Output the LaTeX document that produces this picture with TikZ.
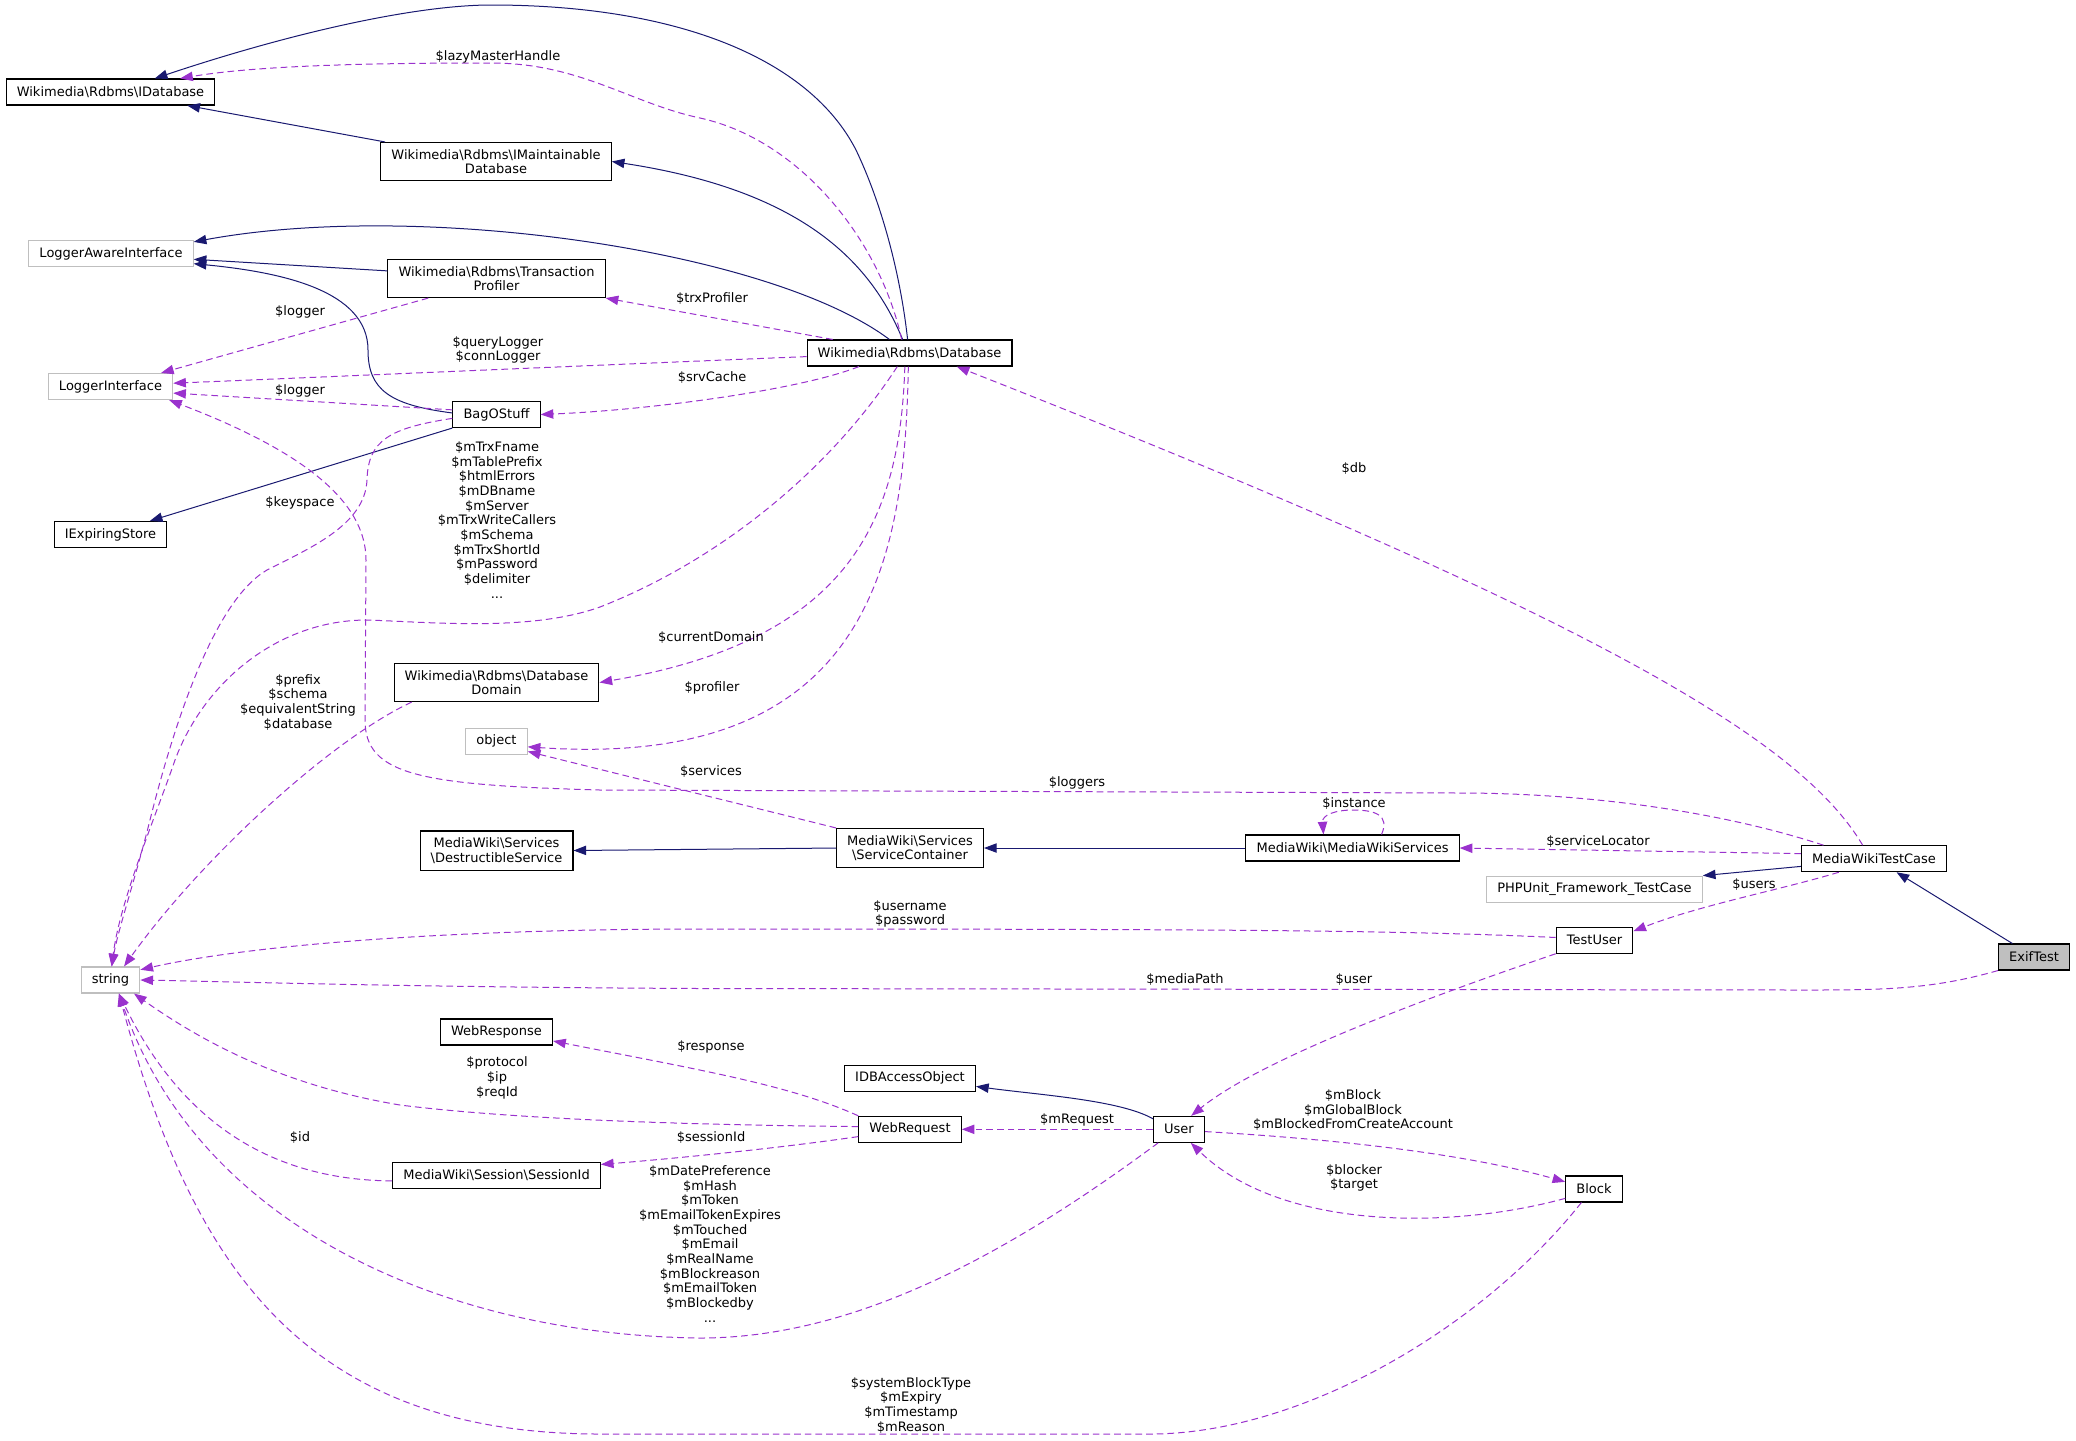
\documentclass[tikz,border=0pt]{standalone}
\usepackage{fontspec}
\setmainfont{DejaVu Sans}
\usetikzlibrary{arrows.meta}
\definecolor{inhblue}{HTML}{191970}
\definecolor{memviolet}{HTML}{9A32CD}
\definecolor{extgray}{HTML}{BFBFBF}
\newcommand{\bsl}{\textbackslash}

\begin{document}
\begin{tikzpicture}[x=0.75pt, y=-0.75pt,
    font=\fontsize{9.75}{11}\selectfont,
    cls/.style={draw=black, fill=white, line width=0.8pt, inner xsep=8pt, inner ysep=5pt, minimum height=19.5pt, align=center},
    extcls/.style={cls, draw=extgray},
    inh/.style={inhblue, line width=0.75pt, -{Triangle[length=9.5pt, width=7pt]}},
    mem/.style={memviolet, line width=0.75pt, dash pattern=on 5pt off 3pt, -{Triangle[length=9.5pt, width=7pt]}},
    lbl/.style={align=center, inner sep=0pt}]
    \useasboundingbox (0,0) rectangle (2076,1440);

    % Classes, left column
    \node[cls] (idb) at (110.5,92) {Wikimedia\bsl Rdbms\bsl IDatabase};
    \node[extcls] (lai) at (111,253.5) {LoggerAwareInterface};
    \node[extcls] (li) at (110.5,386.5) {LoggerInterface};
    \node[cls] (iexp) at (110.5,534.5) {IExpiringStore};
    \node[extcls] (str) at (110.5,980) {string};

    % Classes, second column
    \node[cls] (imaint) at (496,161.5) {Wikimedia\bsl Rdbms\bsl IMaintainable\\Database};
    \node[cls] (tprof) at (496.5,278.5) {Wikimedia\bsl Rdbms\bsl Transaction\\Profiler};
    \node[cls] (bag) at (496.5,414.5) {BagOStuff};
    \node[cls] (dom) at (496.5,682.5) {Wikimedia\bsl Rdbms\bsl Database\\Domain};
    \node[extcls] (obj) at (496.5,741.3) {object};
    \node[cls] (dest) at (496.5,850.5) {MediaWiki\bsl Services\\\bsl DestructibleService};
    \node[cls] (wresp) at (496.5,1032) {WebResponse};
    \node[cls] (sess) at (496.5,1175.4) {MediaWiki\bsl Session\bsl SessionId};

    % Classes, middle
    \node[cls] (db) at (909.5,353) {Wikimedia\bsl Rdbms\bsl Database};
    \node[cls] (cont) at (910,848) {MediaWiki\bsl Services\\\bsl ServiceContainer};
    \node[cls] (idbao) at (910,1078.3) {IDBAccessObject};
    \node[cls] (wreq) at (910,1129.3) {WebRequest};
    \node[cls] (user) at (1179,1129.3) {User};
    \node[cls] (mws) at (1352.5,848) {MediaWiki\bsl MediaWikiServices};

    % Classes, right side
    \node[extcls] (php) at (1594.5,889.3) {PHPUnit\_Framework\_TestCase};
    \node[cls] (tuser) at (1594.5,940.2) {TestUser};
    \node[cls] (block) at (1594,1189) {Block};
    \node[cls] (mwtc) at (1874,858.7) {MediaWikiTestCase};
    \node[cls, fill=extgray] (exif) at (2034,957) {ExifTest};

    % Inheritance
    \draw[inh] (db.98) .. controls (900,270) and (880,200) .. (856,150)
        .. controls (810,60) and (680,5) .. (491,5)
        .. controls (420,5) and (300,30) .. (idb.17);
    \draw[inh] (imaint.170) -- (idb.-10);
    \draw[inh] (db.117) .. controls (870,260) and (800,190) .. (imaint.east);
    \draw[inh] (db.146) .. controls (770,250) and (420,200) .. (lai.8);
    \draw[inh] (tprof.176) -- (lai.-4);
    \draw[inh] (bag.178) .. controls (390,405) and (368,390) .. (368,350)
        .. controls (368,290) and (280,272) .. (lai.-7);
    \draw[inh] (bag.south west) -- (iexp.19);
    \draw[inh] (cont.west) -- (dest.east);
    \draw[inh] (mws.west) -- (cont.east);
    \draw[inh] (mwtc.186) -- (php.north east);
    \draw[inh] (exif.148) -- (mwtc.-31);
    \draw[inh] (user.158) .. controls (1120,1100) and (1040,1095) .. (idbao.-7);

    % Members
    \draw[mem] (db.120) .. controls (880,240) and (800,140) .. (700,118)
        .. controls (630,103) and (580,63) .. (491,63)
        .. controls (380,63) and (260,65) .. (idb.11);
    \node[lbl] (lLazy) at (498,57) {\$lazyMasterHandle};

    \draw[mem] (db.170) -- (tprof.south east);
    \node[lbl] (lTrx) at (712,299) {\$trxProfiler};

    \draw[mem] (db.182) .. controls (600,365) and (300,378) .. (li.3);
    \node[lbl] (lQuery) at (498,350) {\$queryLogger\\\$connLogger};

    \draw[mem] (tprof.196) -- (li.15);
    \node[lbl] (lLogA) at (300,312) {\$logger};

    \draw[mem] (bag.174) -- (li.-6);
    \node[lbl] (lLogB) at (300,391) {\$logger};

    \draw[mem] (db.195) .. controls (800,390) and (650,410) .. (bag.east);
    \node[lbl] (lSrv) at (712,378) {\$srvCache};

    \draw[mem] (db.228) .. controls (830,470) and (720,560) .. (600,607)
        .. controls (530,632) and (430,622) .. (367,620)
        .. controls (280,620) and (205,680) .. (175,760)
        .. controls (158,810) and (120,900) .. (str.85);
    \node[lbl] (lTrxF) at (497,520) {\$mTrxFname\\\$mTablePrefix\\\$htmlErrors\\\$mDBname\\\$mServer\\\$mTrxWriteCallers\\\$mSchema\\\$mTrxShortId\\\$mPassword\\\$delimiter\\...};

    \draw[mem] (bag.185) .. controls (390,428) and (368,440) .. (367,480)
        .. controls (365,525) and (310,548) .. (267,570)
        .. controls (215,600) and (175,720) .. (150,820)
        .. controls (135,880) and (118,930) .. (str.85);
    \node[lbl] (lKey) at (300,503) {\$keyspace};

    \draw[mem] (dom.193) .. controls (330,740) and (200,860) .. (str.45);
    \node[lbl] (lPrefix) at (298,702) {\$prefix\\\$schema\\\$equivalentString\\\$database};

    \draw[mem] (db.251) .. controls (900,520) and (850,640) .. (dom.east);
    \node[lbl] (lDom) at (711,638) {\$currentDomain};

    \draw[mem] (db.265) .. controls (905,560) and (870,770) .. (obj.-10);
    \node[lbl] (lProf) at (712,688) {\$profiler};

    \draw[mem] (cont.north west) -- (obj.-18);
    \node[lbl] (lServ) at (711,771) {\$services};

    \draw[mem] (mwtc.165) .. controls (1700,805) and (1560,793) .. (1460,793) -- (600,790)
        .. controls (420,785) and (365,775) .. (365,720) -- (366,560)
        .. controls (366,500) and (300,450) .. (li.-13);
    \node[lbl] (lLoggers) at (1077,783) {\$loggers};

    \draw[mem] (mws.25) .. controls (1390,815) and (1375,810) .. (1353,810)
        .. controls (1335,810) and (1322,815) .. (mws.155);
    \node[lbl] (lInst) at (1354,803) {\$instance};

    \draw[mem] (mwtc.176) -- (mws.east);
    \node[lbl] (lLoc) at (1598,841) {\$serviceLocator};

    \draw[mem] (mwtc.130) .. controls (1800,740) and (1600,620) .. (db.-16);
    \node[lbl] (lDb) at (1354,469) {\$db};

    \draw[mem] (mwtc.201) .. controls (1780,890) and (1700,905) .. (tuser.13);
    \node[lbl] (lUsers) at (1754,884) {\$users};

    \draw[mem] (tuser.176) .. controls (1400,930) and (1200,929) .. (700,929)
        .. controls (450,929) and (250,945) .. (str.19);
    \node[lbl] (lName) at (910,914) {\$username\\\$password};

    \draw[mem] (exif.south west) .. controls (1930,990) and (1880,990) .. (1800,990) -- (700,988.5)
        .. controls (400,987) and (250,982) .. (str.east);
    \node[lbl] (lMedia) at (1185,979) {\$mediaPath};

    \draw[mem] (tuser.south west) .. controls (1420,1000) and (1260,1060) .. (user.48);
    \node[lbl] (lUser) at (1354,979) {\$user};

    \draw[mem] (user.west) -- (wreq.east);
    \node[lbl] (lReq) at (1077,1120) {\$mRequest};

    \draw[mem] (wreq.north west) .. controls (790,1085) and (700,1070) .. (wresp.-9);
    \node[lbl] (lResp) at (711,1047) {\$response};

    \draw[mem] (wreq.177) .. controls (700,1125) and (520,1120) .. (400,1105)
        .. controls (280,1085) and (200,1040) .. (str.-30);
    \node[lbl] (lProto) at (497,1078) {\$protocol\\\$ip\\\$reqId};

    \draw[mem] (wreq.188) .. controls (780,1148) and (680,1158) .. (sess.6);
    \node[lbl] (lSess) at (711,1137) {\$sessionId};

    \draw[mem] (sess.183) .. controls (250,1180) and (170,1100) .. (str.-58);
    \node[lbl] (lId) at (300,1137) {\$id};

    \draw[mem] (user.213) .. controls (1000,1260) and (850,1338) .. (700,1338)
        .. controls (450,1335) and (200,1230) .. (str.-58);
    \node[lbl] (lDate) at (710,1244) {\$mDatePreference\\\$mHash\\\$mToken\\\$mEmailTokenExpires\\\$mTouched\\\$mEmail\\\$mRealName\\\$mBlockreason\\\$mEmailToken\\\$mBlockedby\\...};

    \draw[mem] (block.227) .. controls (1480,1330) and (1300,1434) .. (1150,1434) -- (600,1434)
        .. controls (300,1434) and (190,1260) .. (str.-58);
    \node[lbl] (lSys) at (911,1405) {\$systemBlockType\\\$mExpiry\\\$mTimestamp\\\$mReason};

    \draw[mem] (user.-5) .. controls (1350,1140) and (1470,1155) .. (block.166);
    \node[lbl] (lBlock) at (1353,1110) {\$mBlock\\\$mGlobalBlock\\\$mBlockedFromCreateAccount};

    \draw[mem] (block.198) .. controls (1450,1230) and (1280,1230) .. (user.-49);
    \node[lbl] (lBlocker) at (1354,1178) {\$blocker\\\$target};
\end{tikzpicture}
\end{document}
